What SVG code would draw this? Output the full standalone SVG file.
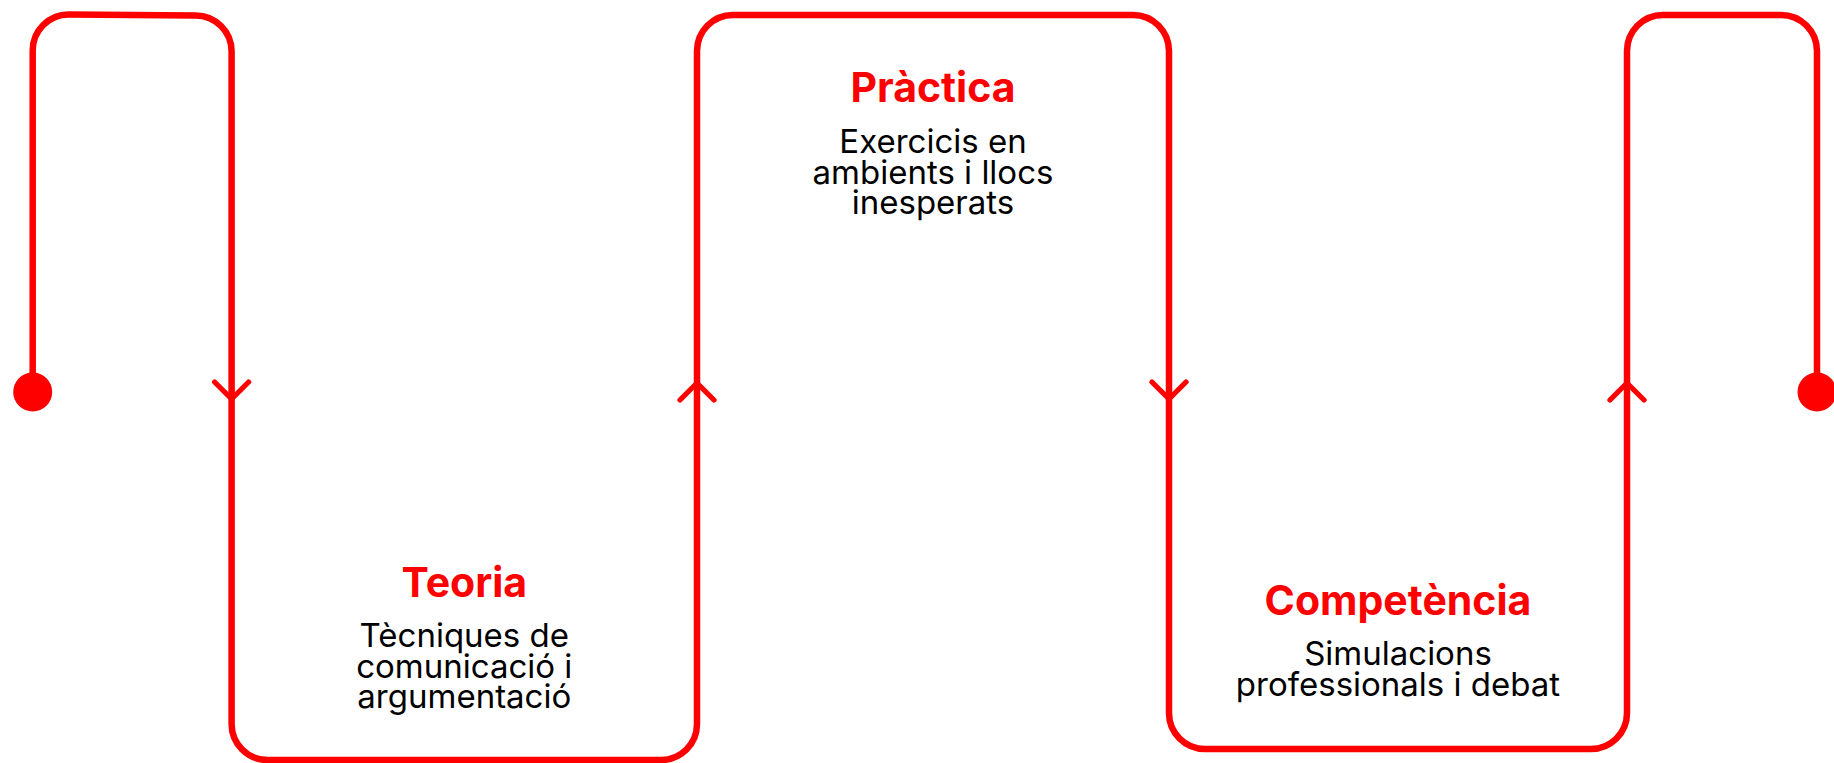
<svg xmlns="http://www.w3.org/2000/svg" width="1834" height="763" viewBox="0 0 1834 763">
<style>
.path{fill:none;stroke:#FF0000;stroke-width:6.5;stroke-linejoin:round;stroke-linecap:round}
.arrow{fill:none;stroke:#FF0000;stroke-width:5.3;stroke-linecap:round;stroke-linejoin:round}
.dot{fill:#FF0000}
.title{font-family:Inter,"Noto Sans",sans-serif;font-weight:700;font-size:41px;fill:#FF0000;text-anchor:middle}
.body{font-family:Inter,"Noto Sans",sans-serif;font-weight:400;font-size:33px;fill:#000000;text-anchor:middle}
</style>
<rect width="1834" height="763" fill="#FFFFFF"/>
<g id="connectors">
<path class="path" d="M 32.7 392 V 50.5 A 36 36 0 0 1 68.7 14.5 L 195.6 15.5 A 36 36 0 0 1 231.6 51.5 V 724 A 36 36 0 0 0 267.6 760 H 661 A 36 36 0 0 0 697 724 V 51 A 36 36 0 0 1 733 15 H 1133 A 36 36 0 0 1 1169 51 V 713 A 36 36 0 0 0 1205 749 H 1591 A 36 36 0 0 0 1627 713 V 51 A 36 36 0 0 1 1663 15 H 1781 A 36 36 0 0 1 1817 51 V 392"/>
<polyline class="arrow" points="214.6,382 231.6,399 248.6,382"/>
<polyline class="arrow" points="680,400 697,383 714,400"/>
<polyline class="arrow" points="1152,382 1169,399 1186,382"/>
<polyline class="arrow" points="1610,400 1627,383 1644,400"/>
</g>
<g id="start"><circle class="dot" cx="32.7" cy="392" r="19.5"/></g>
<g id="end"><circle class="dot" cx="1817" cy="392" r="19.5"/></g>
<g id="teoria">
<text class="title" x="464.3" y="597">Teoria</text>
<text class="body" x="464.3" y="647">Tècniques de</text>
<text class="body" x="464.3" y="678">comunicació i</text>
<text class="body" x="464.3" y="708">argumentació</text>
</g>
<g id="practica">
<text class="title" x="933" y="101.5">Pràctica</text>
<text class="body" x="933" y="153">Exercicis en</text>
<text class="body" x="933" y="183.5">ambients i llocs</text>
<text class="body" x="933" y="214">inesperats</text>
</g>
<g id="competencia">
<text class="title" x="1398" y="615">Competència</text>
<text class="body" x="1398" y="665">Simulacions</text>
<text class="body" x="1398" y="696">professionals i debat</text>
</g>
</svg>
